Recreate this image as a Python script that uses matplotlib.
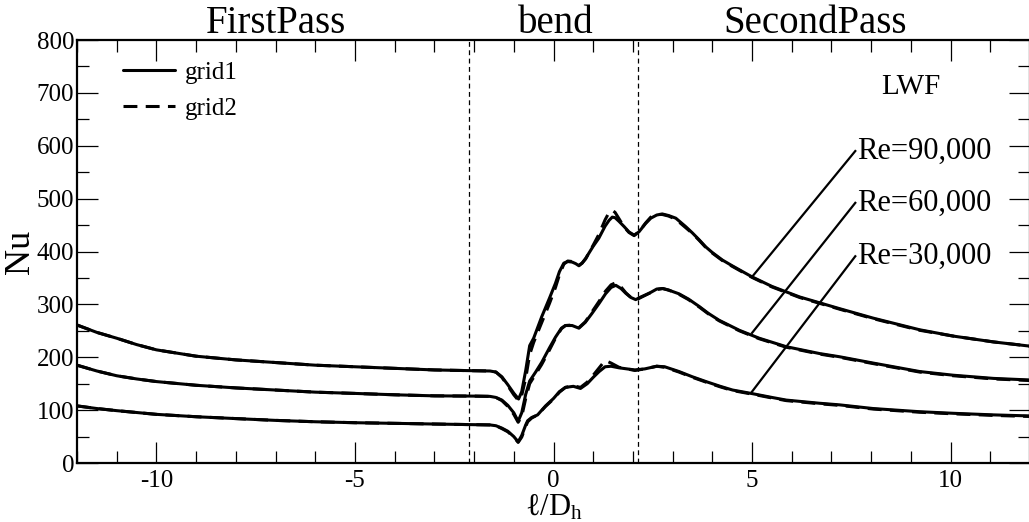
import matplotlib
matplotlib.use("Agg")
import matplotlib.pyplot as plt
from matplotlib.lines import Line2D
from matplotlib.ticker import MultipleLocator, FuncFormatter

plt.rcParams['font.family'] = ['Liberation Serif', 'DejaVu Serif']
plt.rcParams['mathtext.fontset'] = 'custom'
plt.rcParams['mathtext.rm'] = 'Liberation Serif'
plt.rcParams['mathtext.it'] = 'Liberation Serif:italic'
plt.rcParams['lines.scale_dashes'] = False

# ---------------- data ----------------
x_re90 = [-12, -11.5, -11, -10.5, -10, -9, -8, -7, -6, -5, -4, -3, -2, -1.6, -1.45, -1.3, -1.15,
          -1.0, -0.88, -0.8, -0.7, -0.6, -0.5, -0.3, -0.1, 0.05, 0.15, 0.26, 0.36, 0.47, 0.56, 0.64, 0.72, 0.81,
          1.0, 1.14, 1.3, 1.4, 1.48, 1.55, 1.65, 1.78, 1.9, 2.03, 2.15, 2.32, 2.45, 2.6, 2.74, 2.9,
          3.08, 3.33, 3.5, 3.67, 3.83, 4.0, 4.25, 4.5, 5.0, 5.5, 6.2, 7.2, 8.05, 9.22, 10.07, 11.08, 12]
nu90_grid1 = [261, 247, 236, 224, 214, 202, 195, 190, 185, 182, 179, 176, 174.5, 174, 172, 163, 148,
              132, 121, 135, 175, 222, 236, 276, 312, 340, 362, 378, 381, 380, 377, 373, 378, 387,
              410, 425, 448, 459, 465, 464, 457, 447, 437, 431, 437, 453, 463, 469, 471, 468,
              463, 447, 435, 422, 409, 398, 384, 373, 352, 334, 314, 292, 274, 252, 240, 229, 221]
nu90_grid2 = [261, 247, 236, 224, 214, 202, 195, 190, 185, 182, 179, 176, 174.5, 174, 172, 162, 146,
              129, 118, 128, 160, 205, 228, 265, 302, 332, 356, 376, 382, 381, 378, 374, 378, 386,
              412, 432, 460, 474, 478, 474, 462, 446, 436, 430, 437, 454, 465, 470, 470, 467,
              461, 445, 434, 421, 408, 397, 383, 372, 351, 333, 313, 291, 273, 251, 240, 229, 221]

x_re60 = [-12, -11.5, -11, -10.5, -10, -9, -8, -7, -6, -5, -4, -3, -2, -1.6, -1.45, -1.3, -1.15,
          -1.0, -0.89, -0.8, -0.7, -0.6, -0.45, -0.3, -0.1, 0.05, 0.2, 0.3, 0.47, 0.64, 0.8,
          0.97, 1.15, 1.31, 1.45, 1.57, 1.7, 1.82, 1.95, 2.07, 2.2, 2.41, 2.6, 2.75, 2.9,
          3.16, 3.4, 3.67, 3.9, 4.17, 4.68, 5.18, 5.86, 6.7, 7.2, 8.05, 9.22, 10.07, 11.08, 12]
nu60_grid1 = [185, 174, 165, 159, 154, 147, 142, 138, 134, 131.6, 129, 127, 126.5, 126, 124, 119, 109,
              95, 79, 95, 130, 155, 172, 190, 218, 238, 255, 260, 260, 255, 266,
              283, 302, 320, 332, 336, 330, 321, 313, 309, 314, 321, 329, 330, 327,
              320, 310, 296, 283, 270, 251, 236, 220, 207, 201, 189, 173, 166, 160, 157]
nu60_grid2 = [185, 174, 165, 159, 154, 147, 142, 138, 134, 131.6, 129, 127, 126.5, 126, 124, 118, 107,
              92, 77, 88, 122, 150, 168, 186, 214, 236, 254, 260, 261, 256, 267,
              286, 306, 325, 337, 341, 333, 322, 313, 308, 313, 321, 328, 330, 327,
              319, 309, 295, 282, 269, 250, 235, 219, 206, 200, 188, 172, 165, 159, 156]

x_re30 = [-12, -11.5, -11, -10, -9, -8, -7, -6, -5, -4, -3, -2, -1.6, -1.45, -1.3, -1.15, -1.0,
          -0.89, -0.8, -0.7, -0.65, -0.55, -0.4, -0.2, 0.0, 0.15, 0.3, 0.5, 0.68, 0.85, 1.0,
          1.15, 1.3, 1.45, 1.65, 1.85, 2.05, 2.3, 2.6, 2.8, 3.16, 3.5, 3.84, 4.2, 4.51, 5.02,
          5.5, 5.86, 6.7, 7.2, 8.05, 9.22, 10.07, 11.08, 12]
nu30_grid1 = [108, 103, 99, 92, 87.5, 84, 80.6, 78, 76.2, 75, 73.7, 72.5, 72, 70.5, 66, 60, 50,
              40, 52, 72, 80, 86, 91, 108, 122, 135, 143, 145, 141, 150, 162,
              173, 182, 183, 180, 178, 176, 178, 183, 182, 173, 163, 154, 145, 138, 131,
              124, 119, 113, 110, 103, 97, 94, 91, 89]
nu30_grid2 = [108, 103, 99, 92, 87.5, 84, 80.6, 78, 76.2, 75, 73.7, 72.5, 72, 70.5, 65, 59, 49,
              39, 49, 69, 78, 85, 91, 107, 121, 134, 143, 146, 143, 153, 166,
              180, 194, 189, 181, 178, 175, 178, 183, 181, 172, 162, 153, 144, 137, 130,
              123, 118, 112, 109, 102, 96, 93, 90, 88]

section_labels = ['FirstPass', 'bend', 'SecondPass']
section_x = [-7.0, 0.05, 6.6]
section_bounds = [-2.14, 2.14]

re_labels = ['Re=90,000', 'Re=60,000', 'Re=30,000']
re_text_xy = [(7.6, 590), (7.6, 492), (7.6, 391)]
re_point_xy = [(5.0, 352), (5.0, 246), (5.0, 135)]

# ---------------- figure ----------------
W, H = 1029, 522
fig = plt.figure(figsize=(W / 100, H / 100), dpi=100)
ax = fig.add_axes([77 / W, (H - 463) / H, 953 / W, 423 / H])

solid_kw = dict(color='black', lw=2.2, solid_joinstyle='round', solid_capstyle='round')
dash_kw = dict(color='black', lw=2.2, ls=(0, (10, 6)), dash_joinstyle='round')
for xs, g1, g2 in [(x_re90, nu90_grid1, nu90_grid2),
                   (x_re60, nu60_grid1, nu60_grid2),
                   (x_re30, nu30_grid1, nu30_grid2)]:
    ax.plot(xs, g2, **dash_kw)
    ax.plot(xs, g1, **solid_kw)

for xb in section_bounds:
    ax.plot([xb, xb], [0, 800], color='black', lw=0.9, ls=(0, (3.5, 2.5)))

for lab, (tx, ty), (px, py) in zip(re_labels, re_text_xy, re_point_xy):
    ax.plot([px, tx], [py, ty], color='black', lw=1.6)
    ax.text(tx + 0.05, ty, lab, fontsize=22, ha='left', va='center')

ax.text(9.0, 697, 'LWF', fontsize=21, ha='center', va='baseline')

for lab, xs in zip(section_labels, section_x):
    ax.text(xs, 1.0 + 7 / 423, lab, fontsize=28, ha='center', va='baseline',
            transform=ax.get_xaxis_transform())

ax.set_xlim(-12, 12)
ax.set_ylim(0, 800)
ax.xaxis.set_major_locator(MultipleLocator(5))
ax.xaxis.set_minor_locator(MultipleLocator(1))
ax.yaxis.set_major_locator(MultipleLocator(100))
ax.yaxis.set_minor_locator(MultipleLocator(50))
ax.tick_params(which='both', direction='in', top=True, right=True, width=0.9)
ax.tick_params(which='major', length=15)
ax.tick_params(which='minor', length=8.5)
ax.tick_params(axis='x', which='major', labelsize=18, pad=5)
ax.tick_params(axis='y', which='major', labelsize=18, pad=2)
ax.xaxis.set_major_formatter(FuncFormatter(lambda v, p: '%d' % v))
for s in ax.spines.values():
    s.set_linewidth(1.6)

ax.set_ylabel('Nu', fontsize=26, labelpad=0)
ax.set_xlabel('ℓ/D$_{\\mathrm{h}}$', fontsize=22, labelpad=1)

handles = [Line2D([], [], **solid_kw), Line2D([], [], **dash_kw)]
ax.legend(handles, ['grid1', 'grid2'], loc='upper left', bbox_to_anchor=(0.048, 0.95),
          frameon=False, fontsize=18, handlelength=2.1, handletextpad=0.4,
          labelspacing=0.55, borderpad=0, borderaxespad=0)

fig.savefig('out.png', dpi=100)
